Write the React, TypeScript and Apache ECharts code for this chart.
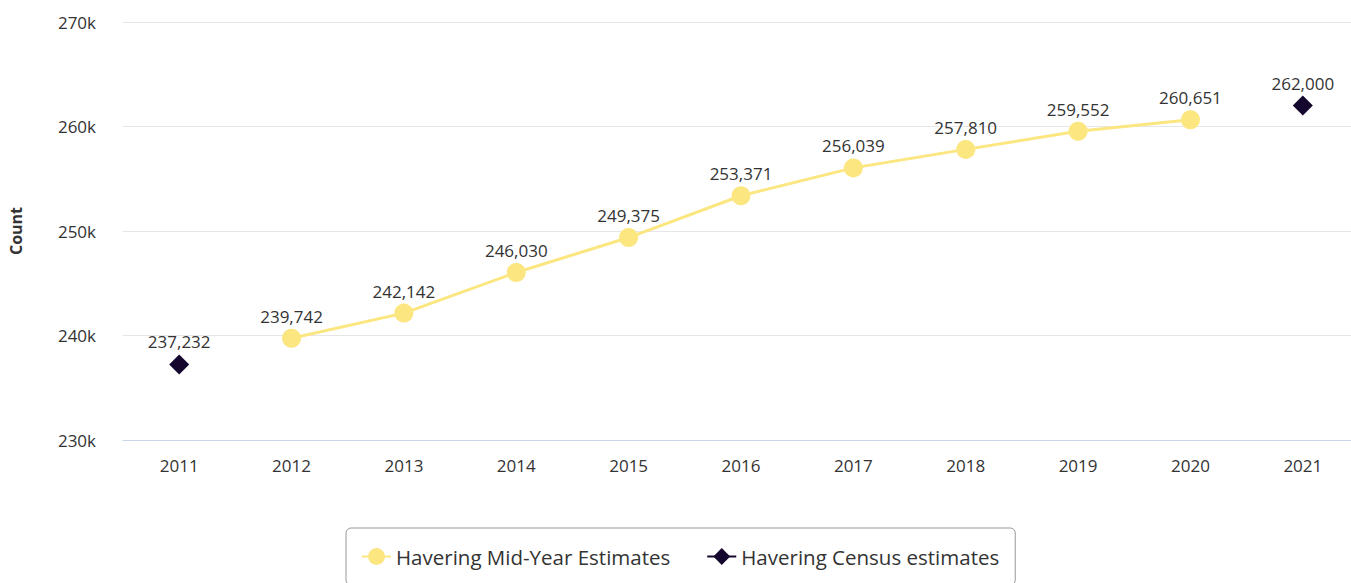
import React, { useEffect, useRef } from "react";
import * as echarts from "echarts";

const years = ["2011", "2012", "2013", "2014", "2015", "2016", "2017", "2018", "2019", "2020", "2021"];
const midYear = [null, 239742, 242142, 246030, 249375, 253371, 256039, 257810, 259552, 260651, null];
const census = [237232, null, null, null, null, null, null, null, null, null, 262000];
const yTicks = { min: 230000, max: 270000, interval: 10000 };

const FONT = "'Open Sans', 'Noto Sans', sans-serif";
const fmt = (v: number) => v.toLocaleString("en-US");

export default function App() {
  const ref = useRef<HTMLDivElement>(null);
  useEffect(() => {
    if (!ref.current) return;
    const chart = echarts.init(ref.current, undefined, { renderer: "svg" });
    chart.setOption({
      animation: false,
      textStyle: { fontFamily: FONT },
      grid: { left: 122, right: 0, top: 22, bottom: 143 },
      legend: {
        left: 346,
        top: 528,
        padding: [18, 16, 18, 15],
        itemGap: 36,
        itemWidth: 29,
        itemHeight: 21,
        borderColor: "#999999",
        borderWidth: 1,
        borderRadius: 5,
        textStyle: { fontSize: 20.5, color: "#333333", fontFamily: FONT },
        data: ["Havering Mid-Year Estimates", "Havering Census estimates"],
      },
      xAxis: {
        type: "category",
        data: years,
        boundaryGap: true,
        axisTick: { show: false },
        axisLine: { lineStyle: { color: "#ccd6eb", width: 1 } },
        axisLabel: { fontSize: 17, color: "#333333", margin: 17, fontFamily: FONT },
      },
      yAxis: {
        type: "value",
        min: yTicks.min,
        max: yTicks.max,
        interval: yTicks.interval,
        name: "Count",
        nameLocation: "middle",
        nameGap: 99,
        nameTextStyle: { fontSize: 16, fontWeight: "bold", color: "#333333", fontFamily: FONT },
        axisLine: { show: false },
        axisTick: { show: false },
        splitLine: { lineStyle: { color: "#e6e6e6", width: 1 } },
        axisLabel: {
          fontSize: 17,
          color: "#333333",
          margin: 27,
          fontFamily: FONT,
          formatter: (v: number) => v / 1000 + "k",
        },
      },
      series: [
        {
          name: "Havering Mid-Year Estimates",
          type: "line",
          data: midYear,
          symbol: "circle",
          symbolSize: 19,
          itemStyle: { color: "#fbe680" },
          lineStyle: { color: "#fbe680", width: 3 },
          label: {
            show: true,
            position: "top",
            distance: 4,
            fontSize: 17,
            color: "#333333",
            fontFamily: FONT,
            formatter: (p: any) => fmt(p.value),
          },
        },
        {
          name: "Havering Census estimates",
          type: "line",
          data: census,
          connectNulls: false,
          symbol: "diamond",
          symbolSize: 20,
          itemStyle: { color: "#14062d" },
          lineStyle: { color: "#14062d", width: 3 },
          label: {
            show: true,
            position: "top",
            distance: 4,
            fontSize: 17,
            color: "#333333",
            fontFamily: FONT,
            formatter: (p: any) => fmt(p.value),
          },
        },
      ],
    });
    return () => chart.dispose();
  }, []);
  return (
    <div style={{ position: "fixed", left: 0, top: 0, width: 1351, height: 583, overflow: "hidden", background: "#fff" }}>
      <div ref={ref} style={{ width: 1359, height: 583 }} />
    </div>
  );
}
